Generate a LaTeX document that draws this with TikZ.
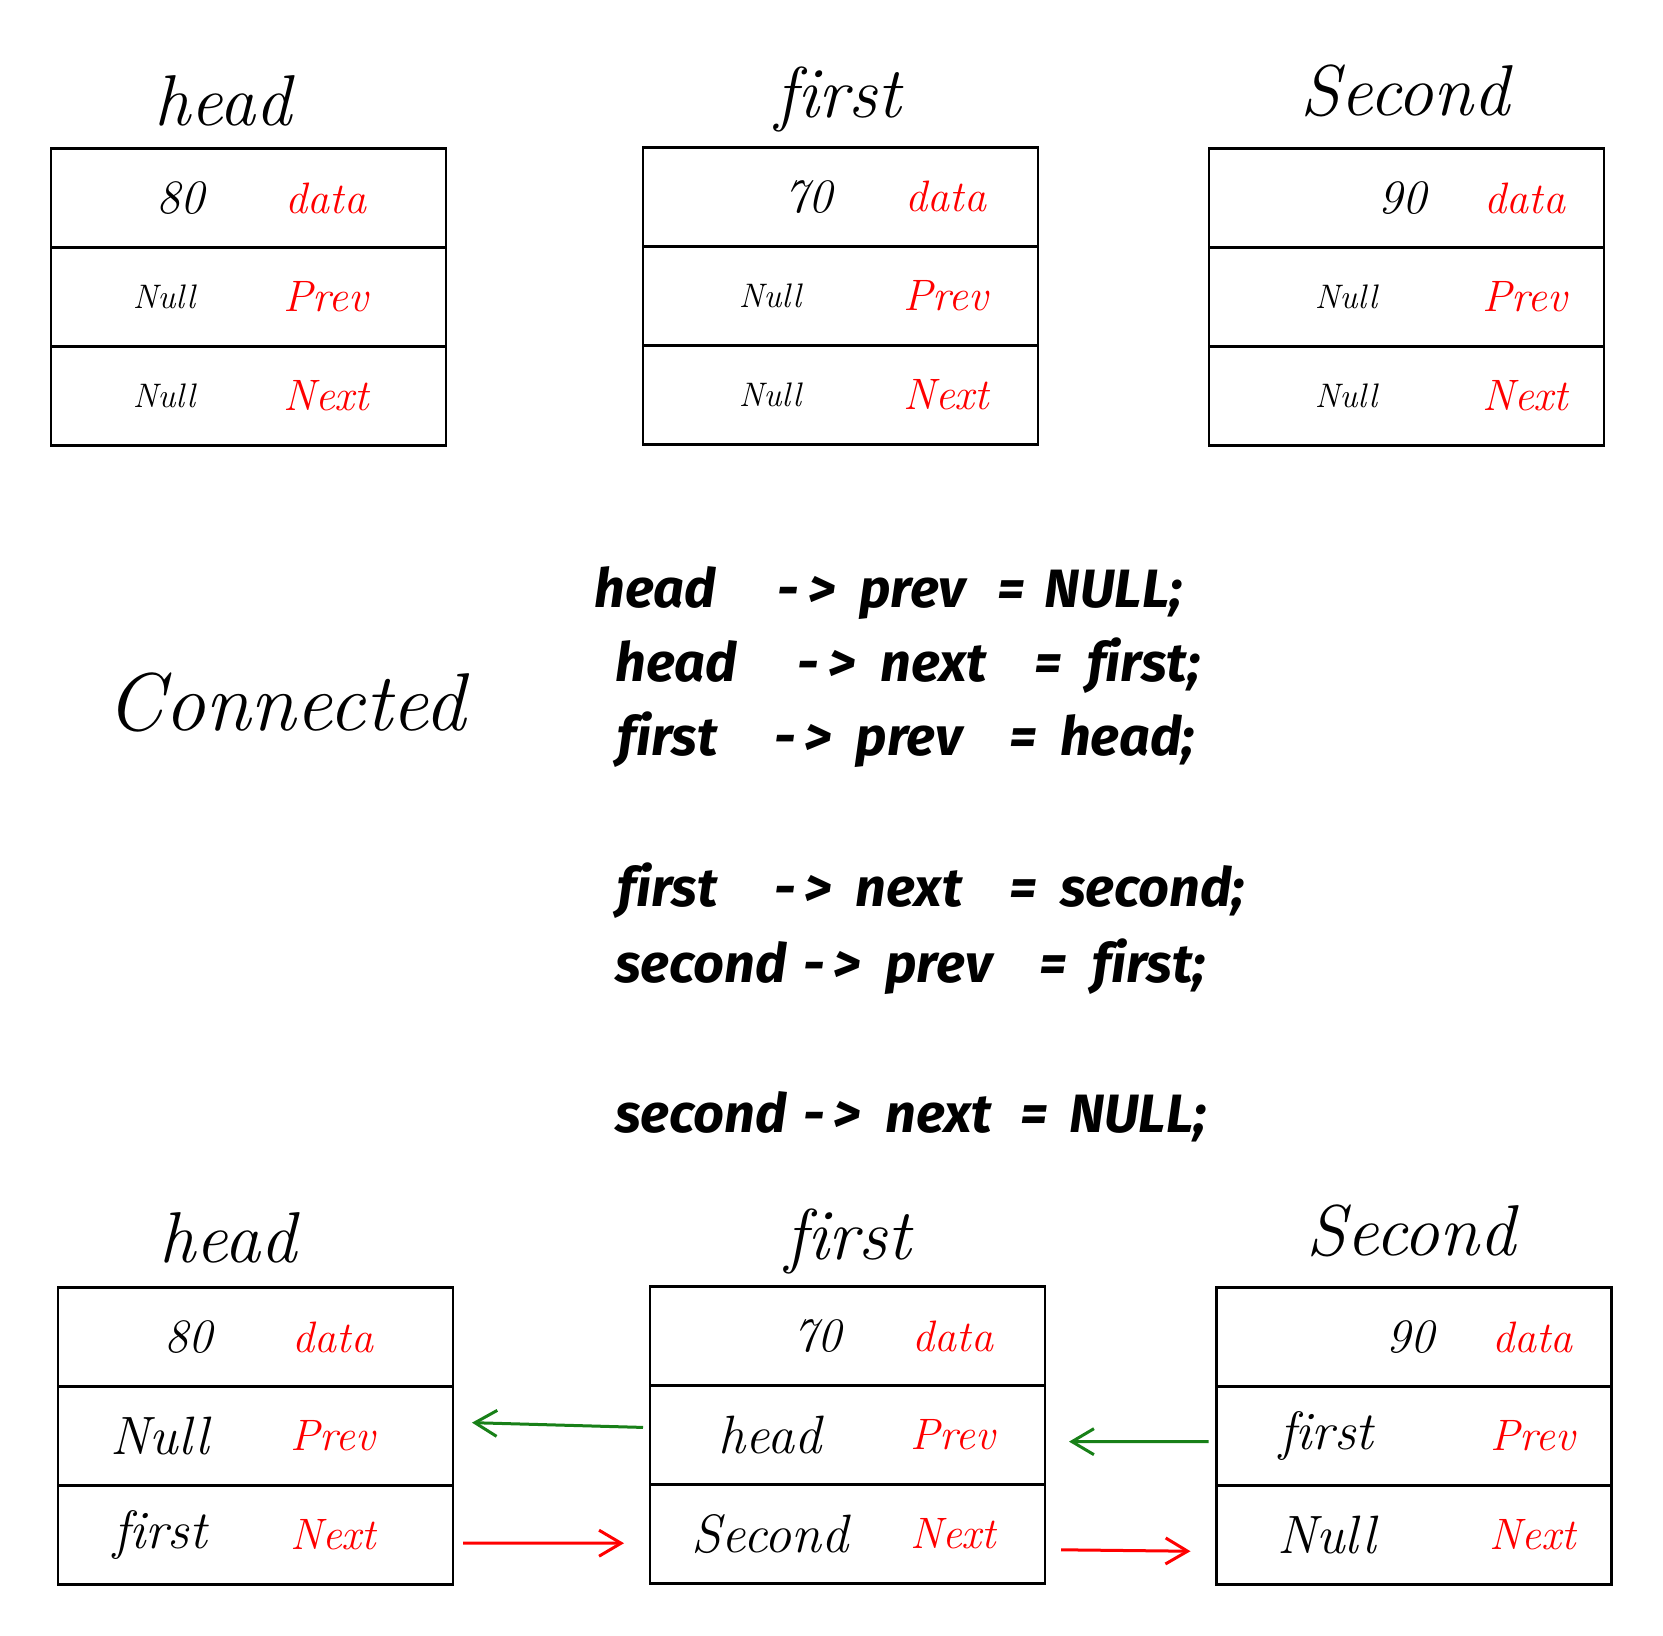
\documentclass[tikz,border=0pt]{standalone}
\usepackage{fontspec}
\setmainfont{Latin Modern Roman}[Ligatures={TeX,NoCommon}]
\newfontfamily\codefont{Fira Sans}[Ligatures=NoCommon]
\usetikzlibrary{positioning,calc,arrows.meta}
\definecolor{nextred}{RGB}{255,0,0}
\definecolor{prevgreen}{RGB}{24,128,24}
\tikzset{
  cell/.style={draw, line width=1.4pt, minimum width=197.5pt, minimum height=49.5pt,
    inner sep=0pt, outer sep=0pt},
  hand/.style={inner sep=0pt, font=\fontsize{24}{28}\selectfont\itshape},
  nullsmall/.style={hand, font=\fontsize{17}{20}\selectfont\itshape},
  nullbig/.style={hand, font=\fontsize{27}{32}\selectfont\itshape},
  fieldname/.style={hand, text=nextred, font=\fontsize{22}{26}\selectfont\itshape},
  boxtitle/.style={anchor=base, inner sep=0pt, font=\fontsize{36}{42}\selectfont\itshape},
  code/.style={anchor=base west, inner sep=0pt,
    font=\codefont\fontsize{27}{32}\selectfont\bfseries\itshape},
  prevlink/.style={draw=prevgreen, line width=1.5pt,
    -{Straight Barb[length=11pt,width=13pt,line width=1.5pt]}},
  nextlink/.style={draw=nextred, line width=1.5pt,
    -{Straight Barb[length=11pt,width=13pt,line width=1.5pt]}}
}
\newcommand\cw[2]{\makebox[#1pt][l]{#2}}
\newcommand\fst{f\kern0pt irst}
\begin{document}
\begin{tikzpicture}[x=0.5pt,y=-0.5pt]
  \useasboundingbox (0,0) rectangle (1663,1635);

  \foreach \n/\x/\y/\v/\vx/\p/\q/\lx/\lab/\sz in {
      th/51/148.5/80/129/Null/Null/113/275/nullsmall,
      tf/643/147.4/70/165/Null/Null/127/303/nullsmall,
      ts/1209/148.5/90/193/Null/Null/137/316/nullsmall,
      bh/58/1287.6/80/130/Null/first/102/275/nullbig,
      bf/650/1286.5/70/167/head/Second/120/303/nullbig,
      bs/1216.5/1287.6/90/194/first/Null/110/316/nullbig} {
    \node[cell] (\n-d) at (\x+197.5,\y+49.5) {};
    \node[cell, below=0pt of \n-d] (\n-p) {};
    \node[cell, below=0pt of \n-p] (\n-n) {};
    \node[hand] (\n-dv) at ($(\n-d.west)+(\vx,0)$) {\v};
    \node[\sz] (\n-pv) at ($(\n-p.west)+(\lx,0)$) {\p};
    \node[\sz] (\n-nv) at ($(\n-n.west)+(\lx,0)$) {\q};
    \node[fieldname] (\n-dl) at ($(\n-d.west)+(\lab,0)$) {data};
    \node[fieldname] (\n-pl) at ($(\n-p.west)+(\lab,0)$) {Prev};
    \node[fieldname] (\n-nl) at ($(\n-n.west)+(\lab,0)$) {Next};
  }

  \node[boxtitle] (th-t) at (223,125) {head};
  \node[boxtitle] (tf-t) at (838,117) {first};
  \node[boxtitle] (ts-t) at (1405,115) {Second};
  \node[boxtitle] (bh-t) at (228,1262) {head};
  \node[boxtitle] (bf-t) at (848,1259) {first};
  \node[boxtitle] (bs-t) at (1411,1255) {Second};

  \node[boxtitle, font=\fontsize{41}{48}\selectfont\itshape] (conn) at (286,730) {Connected};

  \node[code] (c1) at (594,607) {\cw{91.7}{head}\cw{40.8}{-\,>}\cw{68.9}{prev}\cw{23.9}{=}NULL;};
  \node[code] (c2) at (615,681) {\cw{91.2}{head}\cw{41.3}{-\,>}\cw{76.9}{next}\cw{26.5}{=}\fst;};
  \node[code] (c3) at (617,755) {\cw{78.4}{\fst}\cw{40.8}{-\,>}\cw{76.9}{prev}\cw{25.4}{=}head;};
  \node[code] (c4) at (617,906) {\cw{78.4}{\fst}\cw{40.8}{-\,>}\cw{76.9}{next}\cw{25.4}{=}second;};
  \node[code] (c5) at (615,982) {\cw{93.8}{second}\cw{41.3}{-\,>}\cw{76.9}{prev}\cw{26.5}{=}\fst;};
  \node[code] (c6) at (615,1132) {\cw{93.8}{second}\cw{41.3}{-\,>}\cw{67.3}{next}\cw{24.4}{=}NULL;};

  \draw[prevlink, shorten <=3.5pt, shorten >=9.5pt] ([yshift=3.7pt]bf-p.west) -- ([yshift=7pt]bh-p.east);
  \draw[prevlink, shorten <=4pt, shorten >=12pt] ([yshift=-2.8pt]bs-p.west) -- ([yshift=-3.3pt]bf-p.east);
  \draw[nextlink, shorten <=5pt, shorten >=13pt] ([yshift=-4pt]bh-n.east) -- ([yshift=-4.6pt]bf-n.west);
  \draw[nextlink, shorten <=8pt, shorten >=13pt] ([yshift=-7.8pt]bf-n.east) -- ([yshift=-8.2pt]bs-n.west);
\end{tikzpicture}
\end{document}
